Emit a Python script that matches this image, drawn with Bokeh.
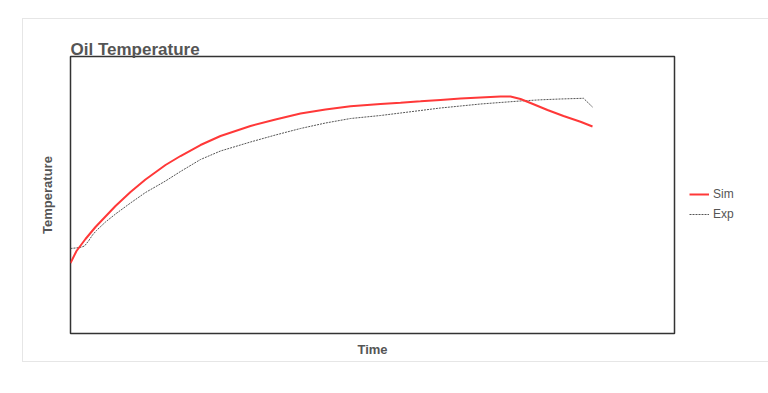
from bokeh.plotting import figure
from bokeh.models import Range1d, Legend, LegendItem, FixedTicker
from bokeh.embed import file_html
from bokeh.resources import INLINE

# Data (arbitrary units)
sim_time = [0, 30, 75, 125, 175, 225, 300, 375, 475, 550, 650, 750, 900, 1025, 1150, 1275,
            1400, 1550, 1650, 1750, 1850, 1950, 2050, 2150, 2200, 2250, 2300, 2385, 2465, 2550, 2610]
sim_temp = [40.36, 43.83, 47.29, 50.76, 53.79, 56.82, 60.87, 64.48, 68.66, 71.26, 74.44, 77.04,
            79.93, 81.81, 83.54, 84.69, 85.62, 86.28, 86.66, 87.06, 87.47, 87.84, 88.19, 88.45,
            88.42, 87.73, 86.57, 84.55, 82.81, 81.14, 79.78]

exp_time = [0, 50, 70, 90, 110, 130, 175, 225, 300, 375, 475, 550, 650, 750, 900, 1025, 1150,
            1275, 1400, 1550, 1650, 1750, 1850, 1950, 2050, 2150, 2250, 2350, 2450, 2565, 2610]
exp_temp = [44.55, 44.84, 45.27, 46.71, 48.45, 49.75, 52.20, 54.51, 57.69, 60.72, 64.04, 66.79,
            70.25, 72.71, 75.31, 77.33, 79.21, 80.79, 82.09, 82.96, 83.68, 84.40, 85.13, 85.70,
            86.28, 86.72, 87.15, 87.49, 87.73, 87.93, 85.41]

title_text = "Oil Temperature"
x_label = "Time"
y_label = "Temperature"

FONT = "Liberation Sans"
GREY = "#555555"

p = figure(frame_width=604, frame_height=277,
           output_backend="svg", toolbar_location=None,
           x_range=Range1d(0, 3020), y_range=Range1d(20, 100),
           min_border_left=47, min_border_right=0, min_border_top=37, min_border_bottom=28,
           margin=(18, 0, 0, 22), styles={"border": "1px solid #e6e6e6"})

p.title.text = title_text
p.title.align = "left"
p.title.standoff = -4
p.title.text_font = FONT
p.title.text_font_style = "bold"
p.title.text_font_size = "17px"
p.title.text_color = GREY

p.grid.visible = False
p.outline_line_color = "#333333"
p.outline_line_width = 1.5

for ax in (p.xaxis, p.yaxis):
    ax.ticker = FixedTicker(ticks=[])
    ax.axis_line_color = None
    ax.major_tick_line_color = None
    ax.minor_tick_line_color = None
    ax.major_label_text_font_size = "0px"
    ax.axis_label_text_font = FONT
    ax.axis_label_text_font_style = "bold"
    ax.axis_label_text_font_size = "13px"
    ax.axis_label_text_color = GREY

p.xaxis.axis_label = x_label
p.yaxis.axis_label = y_label
p.xaxis.axis_label_standoff = 8
p.yaxis.axis_label_standoff = 16

r_exp = p.line(exp_time, exp_temp, line_color="#555555", line_width=1, line_dash="2 1")
r_sim = p.line(sim_time, sim_temp, line_color="#ff3838", line_width=2)

legend = Legend(items=[LegendItem(label="Sim", renderers=[r_sim]),
                       LegendItem(label="Exp", renderers=[r_exp])],
                location="center_left", padding=0, margin=15, spacing=0,
                glyph_width=20, glyph_height=20, label_standoff=4,
                label_text_font=FONT, label_text_font_size="12px", label_text_color=GREY,
                title=" ", title_text_font_size="13px", title_standoff=3,
                border_line_alpha=0, background_fill_alpha=0)
p.add_layout(legend, "right")

open("out.html", "w").write(file_html(p, INLINE))
